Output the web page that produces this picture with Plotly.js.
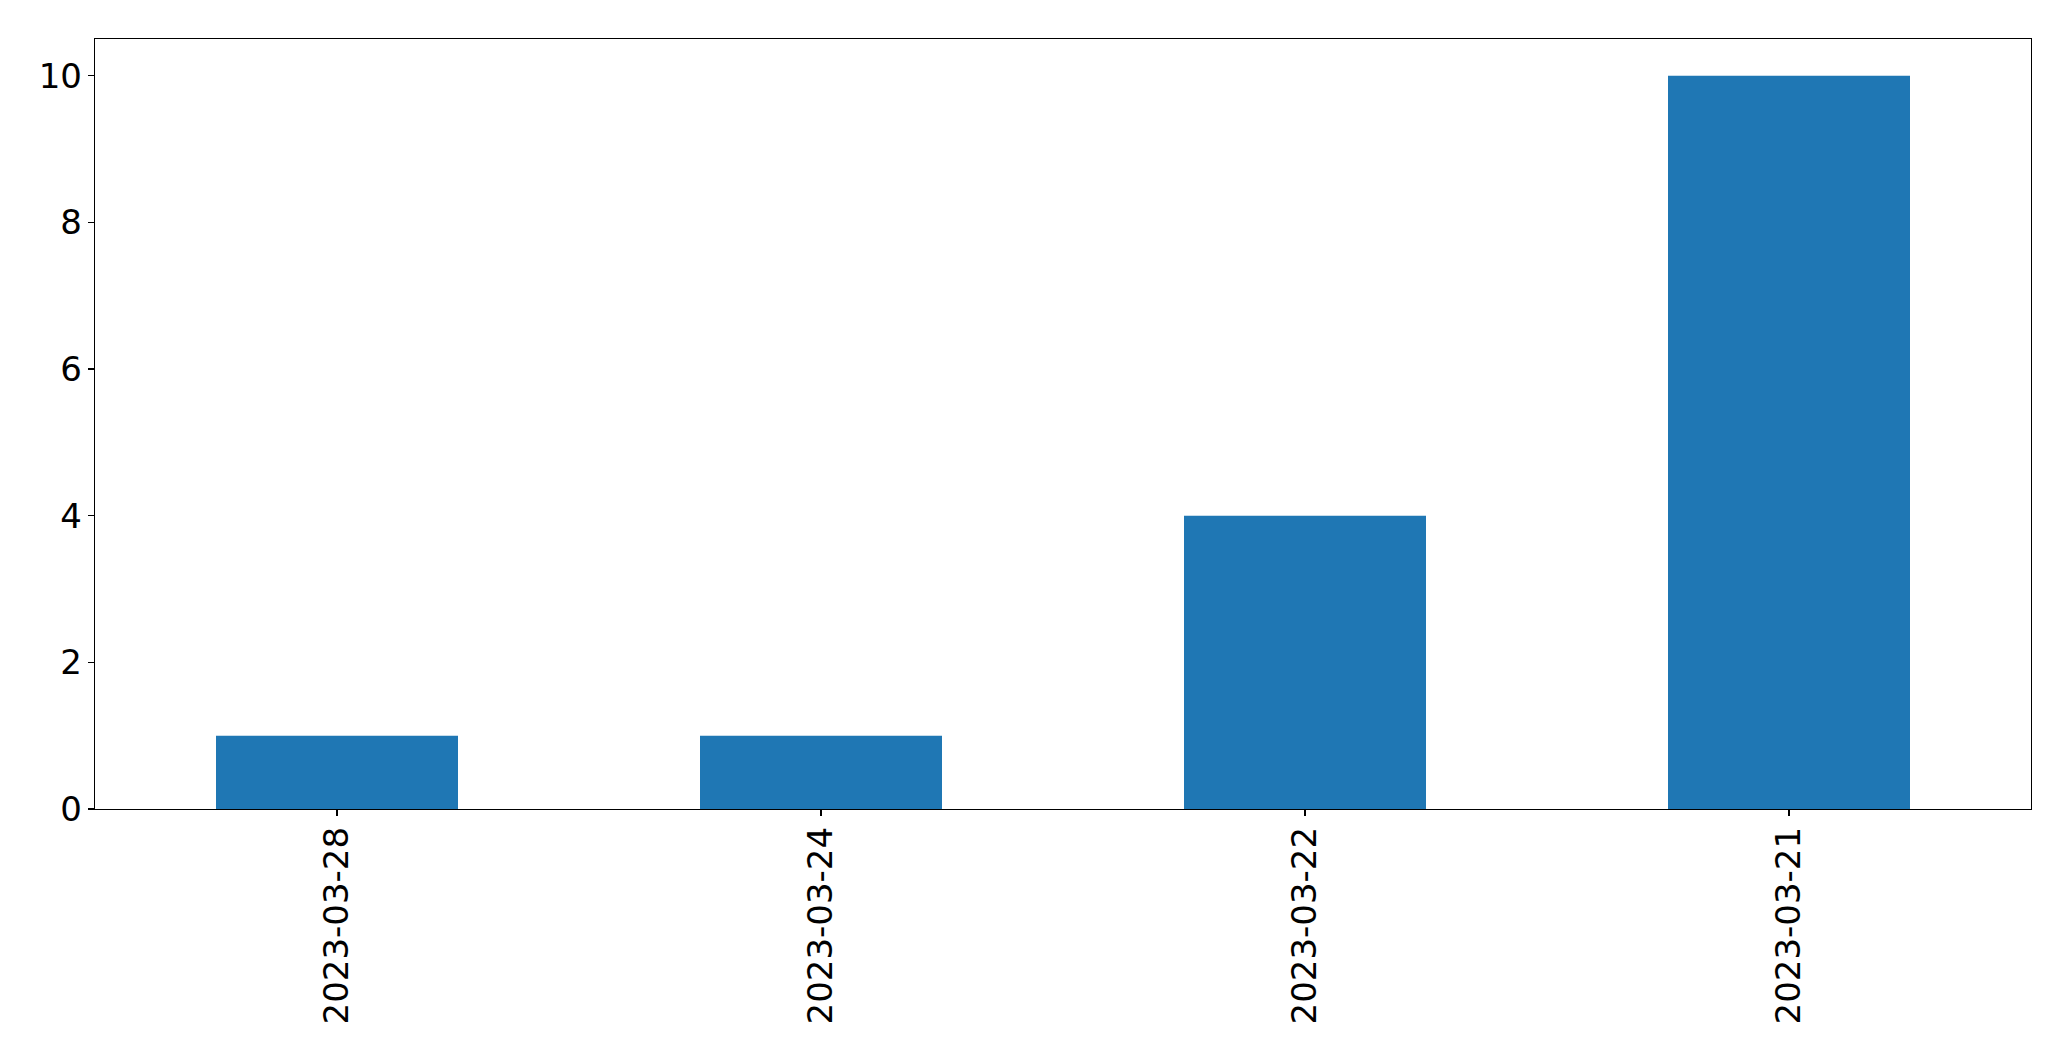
<!DOCTYPE html>
<html>
<head>
<meta charset="utf-8">
<script src="https://cdn.plot.ly/plotly-3.0.1.min.js"></script>
<style>
html, body { margin: 0; padding: 0; background: #ffffff; }
#chart { width: 2071px; height: 1061px; }
</style>
</head>
<body>
<div id="chart"></div>
<script>
const categories = ["2023-03-28", "2023-03-24", "2023-03-22", "2023-03-21"];
const counts = [1, 1, 4, 10];
const yTickValues = [0, 2, 4, 6, 8, 10];

const trace = {
  type: "bar",
  x: categories,
  y: counts,
  width: 0.5,
  marker: { color: "#1f77b4", line: { width: 0 } },
  hoverinfo: "x+y"
};

const layout = {
  width: 2071,
  height: 1061,
  paper_bgcolor: "#ffffff",
  plot_bgcolor: "#ffffff",
  font: { family: "DejaVu Sans, sans-serif", size: 34, color: "#000000" },
  margin: { l: 95, r: 40, t: 39, b: 252, pad: 0 },
  showlegend: false,
  xaxis: {
    type: "category",
    range: [-0.5, 3.5],
    tickangle: -90,
    ticks: "outside",
    ticklen: 6,
    tickwidth: 1.3,
    tickcolor: "#000000",
    ticklabelstandoff: -3,
    showline: true,
    linecolor: "#000000",
    linewidth: 1.3,
    mirror: true,
    showgrid: false,
    zeroline: false,
    tickfont: { family: "DejaVu Sans, sans-serif", size: 34, color: "#000000" }
  },
  yaxis: {
    range: [0, 10.5],
    tickvals: yTickValues,
    ticktext: yTickValues.map(String),
    ticks: "outside",
    ticklen: 6,
    tickwidth: 1.3,
    tickcolor: "#000000",
    ticklabelstandoff: -1,
    showline: true,
    linecolor: "#000000",
    linewidth: 1.3,
    mirror: true,
    showgrid: false,
    zeroline: false,
    tickfont: { family: "DejaVu Sans, sans-serif", size: 34, color: "#000000" }
  }
};

Plotly.newPlot("chart", [trace], layout, { displayModeBar: false, staticPlot: true });
</script>
</body>
</html>
